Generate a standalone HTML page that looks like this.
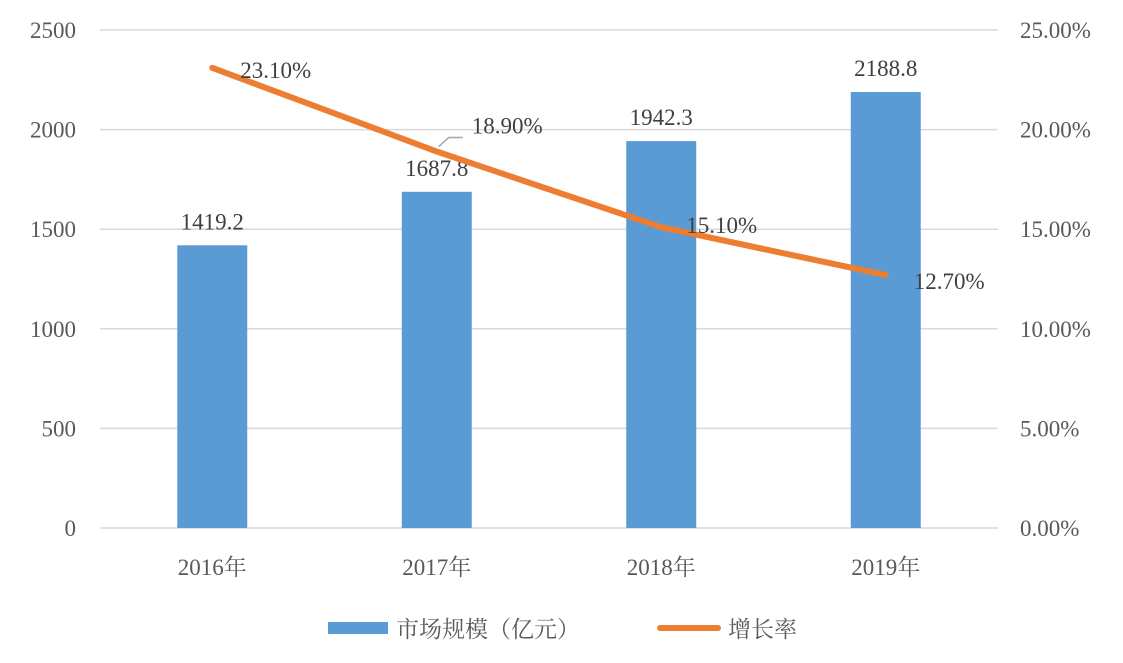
<!DOCTYPE html>
<html><head><meta charset="utf-8">
<style>
body{margin:0;background:#fff;}
svg{display:block;font-family:"Liberation Serif","Noto Serif CJK SC",serif;}
</style></head>
<body>
<svg id="chart" width="1123" height="663"></svg>
<script>
const categories = ["2016年","2017年","2018年","2019年"];
const marketSize = [1419.2, 1687.8, 1942.3, 2188.8];
const growthRate = [23.10, 18.90, 15.10, 12.70];
const leftTicks = [0,500,1000,1500,2000,2500];
const rightTicks = [0,5,10,15,20,25];

const NS="http://www.w3.org/2000/svg";
const svg=document.getElementById('chart');
const X0=100,X1=998,Y0=528,Y1=30;
const band=(X1-X0)/categories.length;
const xC=i=>X0+band*(i+0.5);
const yL=v=>Y0-(v/2500)*(Y0-Y1);
const yR=v=>Y0-(v/25)*(Y0-Y1);
function mk(tag,attrs,txt){const e=document.createElementNS(NS,tag);for(const k in attrs)e.setAttribute(k,attrs[k]);if(txt!==undefined)e.textContent=txt;svg.appendChild(e);return e;}

leftTicks.forEach((t,i)=>{
  const g=mk('line',{x1:X0,x2:X1,y1:yL(t),y2:yL(t),stroke:'#d9d9d9','stroke-width':1.5});
  
  
  const l=mk('text',{x:76,y:yL(t)+8,'text-anchor':'end','font-size':23,fill:'#595959'},t);
  
  
});
rightTicks.forEach(t=>{
  const l=mk('text',{x:1020,y:yR(t)+8,'font-size':23,fill:'#595959'},t.toFixed(2)+'%');
  
  
});
categories.forEach((c,i)=>{
  const b=mk('rect',{x:xC(i)-35,y:yL(marketSize[i]),width:70,height:Y0-yL(marketSize[i]),fill:'#5b9bd5'});
  
  
  const v=mk('text',{x:xC(i),y:yL(marketSize[i])-16,'text-anchor':'middle','font-size':23,fill:'#404040'},marketSize[i].toFixed(1));
  
  
  const xl=mk('text',{x:xC(i),y:575,'text-anchor':'middle','font-size':23,fill:'#595959'},c);
  
  
});
const pts=growthRate.map((v,i)=>xC(i)+','+yR(v)).join(' ');
const line=mk('polyline',{points:pts,fill:'none',stroke:'#ed7d31','stroke-width':6,'stroke-linecap':'round','stroke-linejoin':'round'});


const offs=[[28,10],[35,-18],[25,6],[28,14]];
growthRate.forEach((v,i)=>{
  const t=mk('text',{x:xC(i)+offs[i][0],y:yR(v)+offs[i][1],'font-size':23,fill:'#404040'},v.toFixed(2)+'%');
  
  
});
const leader=mk('polyline',{points:(xC(1)+2)+','+(yR(growthRate[1])-5)+' '+(xC(1)+12)+','+(yR(growthRate[1])-14)+' '+(xC(1)+26)+','+(yR(growthRate[1])-14),fill:'none',stroke:'#a6a6a6','stroke-width':1.5});



const lb=mk('rect',{x:328,y:622,width:60,height:12,fill:'#5b9bd5'});


const lt=mk('text',{x:396,y:637,'font-size':23,fill:'#595959'},'市场规模（亿元）');


const ll=mk('line',{x1:660,x2:718,y1:628,y2:628,stroke:'#ed7d31','stroke-width':6,'stroke-linecap':'round'});


const lt2=mk('text',{x:728,y:637,'font-size':23,fill:'#595959'},'增长率');


</script>
</body></html>
